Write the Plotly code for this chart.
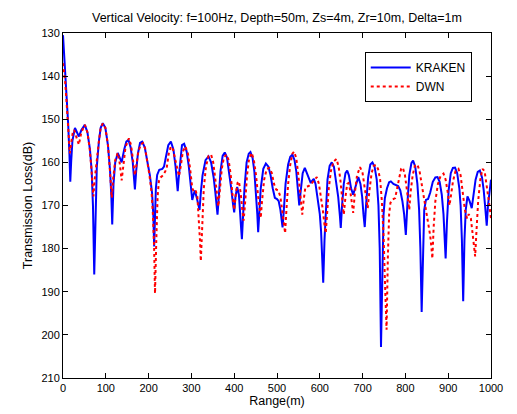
import plotly.graph_objects as go

# KRAKEN (blue, solid)
kraken_range = [0, 3, 6, 9, 12, 15, 17, 19, 22, 28, 33, 37, 43, 51, 57, 63, 67, 70, 73, 76, 79, 84, 88, 93, 99,
                105, 110, 113, 115, 118, 122, 128, 133, 137, 143, 148, 153, 158, 163, 166, 168, 171, 175, 180, 185,
                191, 197, 203, 208, 211, 213, 215, 217, 220, 225, 232, 236, 240, 246, 252, 258, 263, 266, 268, 270,
                274, 278, 283, 289, 294, 298, 302, 305, 308, 312, 316, 319, 322, 326, 333, 340, 346, 352, 356, 359,
                361, 364, 368, 373, 378, 383, 388, 393, 397, 400, 403, 407, 411, 414, 416, 418, 420, 424, 429, 434,
                438, 443, 447, 451, 454, 456, 458, 462, 468, 474, 480, 485, 490, 495, 500, 504, 508, 511, 513, 516,
                520, 526, 531, 536, 541, 545, 548, 550, 552, 555, 560, 565, 570, 575, 579, 582, 586, 590, 595, 600,
                603, 606, 608, 611, 614, 618, 623, 628, 633, 638, 643, 647, 649, 652, 656, 660, 664, 668, 673, 678,
                684, 690, 695, 699, 702, 705, 708, 713, 718, 723, 728, 733, 737, 740, 743, 746, 749, 752, 757, 762,
                766, 772, 778, 783, 788, 793, 797, 801, 805, 809, 814, 818, 823, 828, 832, 835, 838, 841, 844, 848,
                853, 858, 864, 870, 875, 880, 885, 889, 892, 894, 897, 901, 906, 911, 916, 921, 926, 929, 932, 935,
                938, 941, 945, 950, 955, 959, 964, 969, 974, 979, 983, 987, 990, 993, 997, 1000]
kraken_tl = [130.5, 135, 141, 146, 151, 158, 164.5, 160, 155, 152, 153, 154, 152.5, 151.3, 153, 157, 162, 170, 186,
             170, 161, 155, 152, 150.9, 152, 156, 162, 168, 174.4, 165, 160, 157.8, 159, 160, 157, 155.2, 154.8,
             156.5, 160, 163.5, 166.3, 162, 158, 155.5, 155.2, 156.5, 159.5, 163, 167, 172, 179.5, 172, 166, 162.9,
             161.7, 161.5, 161, 159, 156, 155.2, 157, 161, 165, 166.7, 164, 159, 156, 155.7, 157.5, 161, 165, 168.7,
             167.5, 166.5, 168, 170, 171, 167, 163, 159.5, 158.6, 160, 163.5, 167, 170, 172.1, 168, 162, 158.5,
             157.7, 158.8, 162, 166, 169.5, 171.6, 168, 165.7, 167.5, 171, 175, 177.8, 174, 166, 160, 158, 157.6,
             159, 162, 167, 172, 176.2, 172, 166, 161.5, 160.3, 161, 163, 166, 168.2, 168.5, 169, 171, 174, 175.1,
             171, 165, 160.5, 158.7, 158.2, 159.5, 162, 165, 168, 170, 167, 162.5, 161.3, 162.5, 164, 164.8, 164.3,
             163.8, 165, 168, 172, 176, 182, 187.9, 178, 170, 164, 160.8, 160, 161, 164, 168, 172.5, 175.2, 170,
             165, 162.5, 161.9, 163, 166, 167.5, 165.5, 163.4, 165, 168, 172, 175, 170, 163.5, 160.5, 160, 161, 164,
             170, 180, 202.8, 185, 172, 168.3, 166, 164.6, 164.4, 165, 165.3, 165.5, 166.5, 169, 172, 176.8, 169,
             163, 160.2, 159.6, 161, 165, 171, 180, 194.7, 180, 171, 168.7, 168.5, 167, 164.5, 163.5, 163.4, 164.5,
             167.5, 172, 177, 182.3, 174, 166.5, 162.5, 161.3, 161.2, 162.5, 166, 170, 178, 192.2, 178, 171, 167.9,
             169, 170.6, 168, 164, 162.2, 161.9, 163.5, 166.5, 171, 174.7, 170, 166, 164]

# DWN (red, dotted)
dwn_range = [0, 3, 5, 8, 11, 14, 16, 19, 23, 26, 31, 37, 43, 51, 57, 62, 66, 69, 71, 74, 79, 84, 88, 93, 99, 105,
             109, 112, 114, 117, 122, 128, 133, 137, 141, 146, 154, 159, 163, 166, 168, 171, 176, 182, 187, 192, 197,
             202, 207, 210, 213, 215, 218, 221, 224, 228, 234, 242, 247, 252, 257, 262, 267, 271, 275, 280, 286, 292,
             297, 302, 306, 310, 314, 317, 320, 322, 325, 329, 334, 340, 346, 351, 356, 360, 363, 366, 371, 376, 382,
             387, 392, 396, 400, 404, 408, 411, 415, 419, 422, 425, 430, 435, 441, 446, 451, 456, 460, 462, 465, 470,
             476, 482, 488, 493, 498, 503, 508, 512, 516, 519, 522, 526, 531, 536, 540, 545, 550, 554, 557, 559, 562,
             566, 569, 574, 580, 587, 593, 598, 603, 607, 611, 614, 617, 621, 626, 632, 639, 644, 648, 652, 656, 660,
             664, 667, 671, 675, 678, 682, 687, 694, 700, 705, 709, 712, 716, 721, 726, 731, 736, 741, 745, 749, 753,
             756, 759, 762, 765, 770, 776, 781, 786, 790, 794, 799, 803, 806, 809, 812, 817, 822, 828, 833, 838, 843,
             848, 853, 858, 861, 863, 866, 870, 876, 882, 889, 894, 899, 903, 906, 911, 917, 924, 929, 934, 939, 944,
             948, 953, 958, 963, 966, 970, 975, 980, 985, 990, 995, 1000]
dwn_tl = [137, 139, 141.3, 145.5, 150, 155, 157.9, 155.5, 153, 152.5, 154, 155.9, 153, 151.3, 153, 156.5, 161, 165,
          167.9, 164, 159, 155, 152, 151, 152, 156, 161, 166, 168.2, 164, 159.5, 157.8, 160.5, 164.2, 161, 156.5,
          154.4, 156, 159, 161.5, 163, 161, 157.5, 155.8, 155.5, 156.8, 159.5, 163, 167, 172, 180, 190.4, 178, 168,
          164.4, 163.5, 163, 161.5, 158, 156.3, 157, 159.5, 162, 163.2, 161, 157.5, 156.3, 158, 161.5, 166, 166.8,
          166.5, 168, 172, 178, 182.9, 174, 166, 161, 158.5, 158.2, 160, 164, 168, 170.2, 167, 161.5, 158.8, 158.2,
          159.5, 163, 167.5, 171, 167, 164.7, 164.4, 167, 171, 173.5, 170, 163, 159, 157.8, 159.5, 163, 168, 172,
          172.9, 169, 164, 161.5, 161.3, 162.5, 165, 166.3, 166.5, 168, 171, 174.5, 176.4, 171, 165, 160.5, 158,
          157.5, 159, 163, 167, 170.5, 172.1, 169, 166, 165.6, 165.5, 165, 164, 163.4, 165, 168, 171, 174.5, 176.4,
          172, 166, 162, 159.8, 159.2, 161, 164, 168.5, 172.1, 168, 165, 164.8, 166.5, 169.5, 171.7, 167, 163,
          161.1, 162.5, 166, 169.5, 170.6, 166.5, 162.5, 160.8, 160.6, 161.5, 164, 169, 177, 190, 198.8, 182, 172,
          169.4, 168.6, 168.3, 166, 163, 161.5, 161.2, 163, 166, 169, 171, 167, 163, 160.8, 160.5, 162, 165, 168.5,
          171, 173.5, 177, 180, 182.3, 175, 169, 165, 163.2, 162.6, 164, 167, 170, 168, 164.5, 162, 161.5, 163,
          166.5, 171, 173, 172, 173, 177, 181.8, 176, 169, 164, 161.5, 162, 165, 169, 173]

x_ticks = [0, 100, 200, 300, 400, 500, 600, 700, 800, 900, 1000]
y_ticks = [130, 140, 150, 160, 170, 180, 190, 200, 210]

FONT = "Liberation Sans, Arial, sans-serif"
PAGE_OFFSET = 8  # default body margin of the html page
FIG_W, FIG_H = 517 - PAGE_OFFSET, 414 - PAGE_OFFSET

fig = go.Figure()
fig.add_trace(go.Scatter(x=kraken_range, y=kraken_tl, mode="lines", name="KRAKEN",
                         line=dict(color="#0000FF", width=2)))
fig.add_trace(go.Scatter(x=dwn_range, y=dwn_tl, mode="lines", name="DWN",
                         line=dict(color="#FF0000", width=2, dash="dot")))

axis_common = dict(showgrid=False, zeroline=False, showline=True, linecolor="black", linewidth=1,
                   mirror="ticks", ticks="inside", ticklen=5, tickcolor="black", automargin=False,
                   tickfont=dict(family=FONT, size=11, color="black"))

fig.update_layout(
    width=FIG_W, height=FIG_H,
    margin=dict(l=63 - PAGE_OFFSET, r=26, t=33 - PAGE_OFFSET, b=36, autoexpand=False),
    paper_bgcolor="white", plot_bgcolor="white",
    title=dict(text="Vertical Velocity: f=100Hz, Depth=50m, Zs=4m, Zr=10m, Delta=1m",
               x=0.5, xref="paper", y=1 - (18 - PAGE_OFFSET) / FIG_H, yref="container", yanchor="middle",
               font=dict(family=FONT, size=12.5, color="black")),
    xaxis=dict(range=[0, 1000], tickvals=x_ticks,
               title=dict(text="Range(m)", font=dict(family=FONT, size=12.5, color="black"), standoff=1),
               **axis_common),
    yaxis=dict(range=[210, 130], tickvals=y_ticks,
               title=dict(text="Transmission Loss(dB)", font=dict(family=FONT, size=12.5, color="black"), standoff=6),
               **axis_common),
    legend=dict(x=0.955, xanchor="right", y=0.945, yanchor="top",
                bgcolor="white", bordercolor="black", borderwidth=1,
                font=dict(family=FONT, size=12, color="black"),
                itemwidth=40),
    showlegend=True,
)

fig.write_html("out.html")
